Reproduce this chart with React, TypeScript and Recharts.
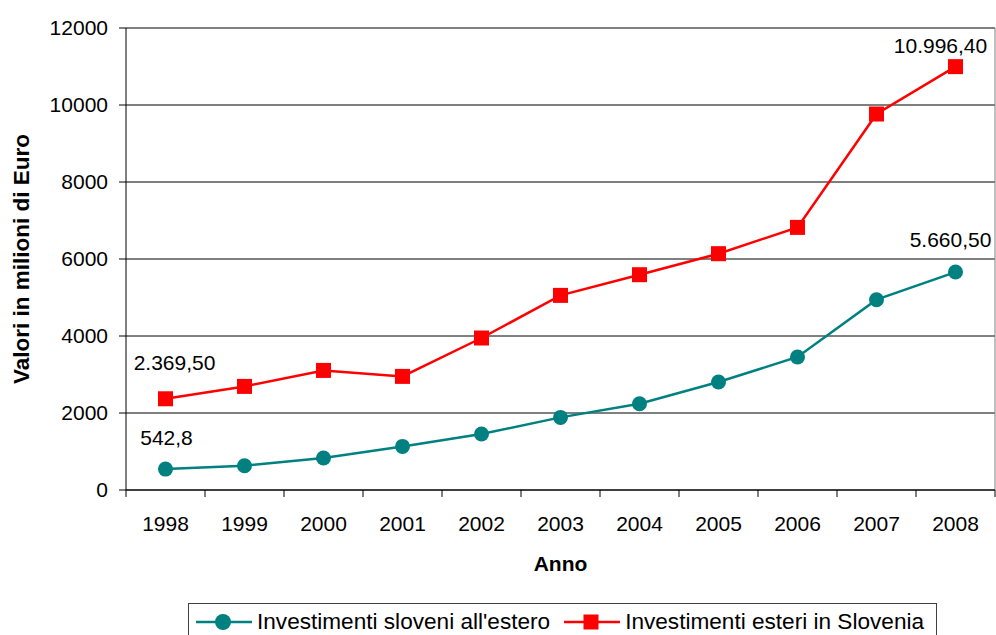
import React from "react";
import { LineChart, Line, XAxis, YAxis, CartesianGrid, ReferenceLine } from "recharts";

// values in millions of euro
const years = [1998, 1999, 2000, 2001, 2002, 2003, 2004, 2005, 2006, 2007, 2008];
const sloveneAbroad = [542.8, 631, 831, 1132, 1454, 1886, 2242, 2805, 3455, 4943, 5660.5];
const foreignInSlovenia = [2369.5, 2691, 3106, 2951, 3948, 5055, 5592, 6138, 6821, 9766, 10996.4];
const yTicks = [0, 2000, 4000, 6000, 8000, 10000, 12000];

const sloveneAbroadLabels: Record<number, string> = { 0: "542,8", 10: "5.660,50" };
const foreignLabels: Record<number, string> = { 0: "2.369,50", 10: "10.996,40" };

const SERIES_ABROAD = "Investimenti sloveni all'estero";
const SERIES_FOREIGN = "Investimenti esteri in Slovenia";

const TEAL = "#008080";
const RED = "#FF0000";
const FONT = "'Liberation Sans', Arial, sans-serif";

const W = 996;
const H = 635;
const Y_AXIS_W = 126;
const PLOT_W = W - Y_AXIS_W - 1;
const STEP = PLOT_W / years.length;

const data = years.map((year, i) => ({
  year,
  abroad: sloveneAbroad[i],
  foreign: foreignInSlovenia[i],
}));

// category boundaries, like Excel puts tick marks between the years
const xTicks = [...years.map((y) => y - 0.5), years[years.length - 1] + 0.5];

function YearTick(props: any) {
  const { x, y, payload } = props;
  const year = payload.value + 0.5;
  if (!years.includes(year)) return <g />;
  return (
    <text x={x + STEP / 2} y={y} dy={24} textAnchor="middle" fontSize={21} fill="#000">
      {year}
    </text>
  );
}

function EndLabel({ x, y, text }: { x: number; y: number; text?: string }) {
  if (!text) return null;
  return (
    <text x={x} y={y} textAnchor="middle" fontSize={21} fill="#000">
      {text}
    </text>
  );
}

function CircleDot(props: any) {
  const { cx, cy, index } = props;
  const first = index === 0;
  return (
    <g>
      <circle cx={cx} cy={cy} r={7.5} fill={TEAL} />
      <EndLabel
        x={cx + (first ? 1 : -5)}
        y={cy + (first ? -24 : -25)}
        text={sloveneAbroadLabels[index]}
      />
    </g>
  );
}

function SquareDot(props: any) {
  const { cx, cy, index } = props;
  const first = index === 0;
  return (
    <g>
      <rect x={cx - 7.5} y={cy - 7.5} width={15} height={15} fill={RED} />
      <EndLabel
        x={cx + (first ? 9 : -15)}
        y={cy + (first ? -29 : -14)}
        text={foreignLabels[index]}
      />
    </g>
  );
}

function LegendBox() {
  return (
    <div
      style={{
        position: "absolute",
        left: 188,
        top: 603,
        width: 749,
        height: 44,
        border: "1px solid #404040",
        boxSizing: "border-box",
        display: "flex",
        alignItems: "flex-start",
        paddingLeft: 7,
        paddingTop: 6,
        fontSize: 22.6,
        lineHeight: "24px",
        color: "#000",
      }}
    >
      <svg width={56} height={24}>
        <line x1={0} y1={12} x2={56} y2={12} stroke={TEAL} strokeWidth={2.5} />
        <circle cx={27} cy={12} r={8} fill={TEAL} />
      </svg>
      <span style={{ marginLeft: 5, marginRight: 14 }}>{SERIES_ABROAD}</span>
      <svg width={56} height={24}>
        <line x1={0} y1={12} x2={56} y2={12} stroke={RED} strokeWidth={2.5} />
        <rect x={19.5} y={4.5} width={15} height={15} fill={RED} />
      </svg>
      <span style={{ marginLeft: 5 }}>{SERIES_FOREIGN}</span>
    </div>
  );
}

export default function App() {
  return (
    <div style={{ position: "relative", width: W, height: H, overflow: "hidden", fontFamily: FONT, background: "#fff" }}>
      <style>{`body{margin:0}`}</style>
      <LineChart width={W} height={H} data={data} margin={{ top: 28, right: 1, left: 0, bottom: 64 }}>
        <CartesianGrid vertical={false} stroke="#000" strokeOpacity={1} />
        <XAxis
          dataKey="year"
          type="number"
          domain={[xTicks[0], xTicks[xTicks.length - 1]]}
          ticks={xTicks}
          interval={0}
          height={81}
          tickSize={7}
          tickMargin={10}
          stroke="#000"
          tick={<YearTick />}
          label={{ value: "Anno", position: "insideBottom", offset: 0, fontSize: 21, fontWeight: "bold", fill: "#000" }}
        />
        <YAxis
          domain={[0, 12000]}
          ticks={yTicks}
          interval={0}
          width={Y_AXIS_W}
          tickSize={7}
          tickMargin={11}
          stroke="#000"
          tick={{ fontSize: 21, fill: "#000" }}
          label={{
            value: "Valori in milioni di Euro",
            angle: -90,
            position: "insideLeft",
            offset: 21,
            fontSize: 22.5,
            fontWeight: "bold",
            fill: "#000",
            style: { textAnchor: "middle" },
          }}
        />
        <ReferenceLine x={xTicks[xTicks.length - 1]} stroke="#808080" />
        <Line
          type="linear"
          dataKey="abroad"
          name={SERIES_ABROAD}
          stroke={TEAL}
          strokeWidth={2.5}
          dot={<CircleDot />}
          activeDot={false}
          isAnimationActive={false}
        />
        <Line
          type="linear"
          dataKey="foreign"
          name={SERIES_FOREIGN}
          stroke={RED}
          strokeWidth={2.5}
          dot={<SquareDot />}
          activeDot={false}
          isAnimationActive={false}
        />
      </LineChart>
      <LegendBox />
    </div>
  );
}
